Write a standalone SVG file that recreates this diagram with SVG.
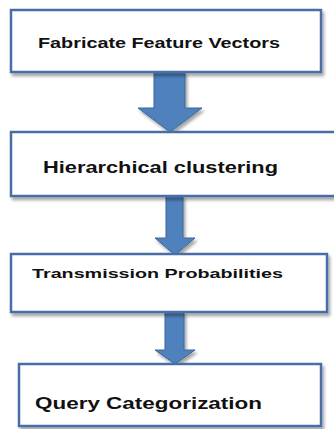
<svg xmlns="http://www.w3.org/2000/svg" width="334" height="429" viewBox="0 0 334 429">
  <defs>
    <filter id="sh" x="-10%" y="-20%" width="130%" height="150%">
      <feDropShadow dx="2" dy="3" stdDeviation="1.5" flood-color="#000" flood-opacity="0.35"/>
    </filter>
    <style>
      .box { fill: #ffffff; stroke: #4a6ea6; stroke-width: 2.5; filter: url(#sh); }
      .lbl { font-family: "Liberation Sans", Arial, sans-serif; font-weight: bold; fill: #111; }
      .arr { fill: #4f81bd; stroke: #3a669c; stroke-width: 1; filter: url(#sh); }
    </style>
  </defs>
  <rect width="334" height="429" fill="#ffffff"/>
  <g id="connectors">
    <polygon class="arr" points="154,72 185,72 185,108 202,108 170,132 138,108 154,108"/>
    <polygon class="arr" points="166,196 183,196 183,238 195,238 175,255 155,238 166,238"/>
    <polygon class="arr" points="165,312 184,312 184,350 195,350 175,364 155,350 165,350"/>
  </g>
  <g id="node1">
    <rect class="box" x="11" y="10" width="310" height="62"/>
    <text class="lbl" x="38" y="47.5" font-size="15.5" textLength="242" lengthAdjust="spacingAndGlyphs">Fabricate Feature Vectors</text>
  </g>
  <g id="node2">
    <rect class="box" x="11" y="132" width="330" height="64"/>
    <text class="lbl" x="43" y="173" font-size="16" textLength="235" lengthAdjust="spacingAndGlyphs">Hierarchical clustering</text>
  </g>
  <g id="node3">
    <rect class="box" x="11" y="254" width="316" height="58"/>
    <text class="lbl" x="32" y="278" font-size="13.5" textLength="251" lengthAdjust="spacingAndGlyphs">Transmission Probabilities</text>
  </g>
  <g id="node4">
    <rect class="box" x="19" y="364" width="302" height="62"/>
    <text class="lbl" x="35" y="409" font-size="16.5" textLength="227" lengthAdjust="spacingAndGlyphs">Query Categorization</text>
  </g>
</svg>
